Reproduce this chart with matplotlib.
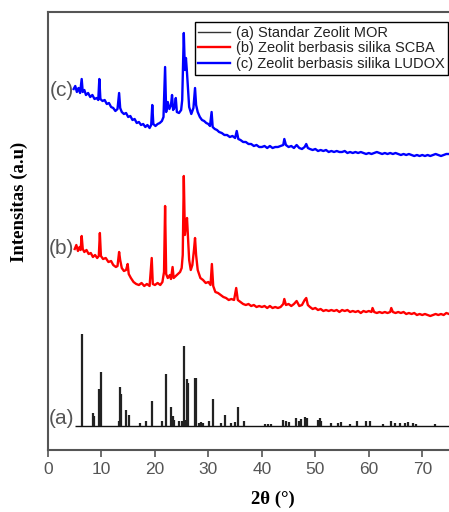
import matplotlib
matplotlib.use('Agg')
from matplotlib import pyplot as plt

# (a) standard MOR pattern: stick peaks (2theta, height above baseline)
a_base = 24
a_start, a_end = 5.0, 75.0
a_pos = [6.38, 8.39, 8.57, 9.5, 9.83, 13.26, 13.39, 13.7, 14.5, 15.1, 17.3, 18.3,
         19.5, 21.4, 22.0, 22.96, 23.3, 23.6, 24.5, 25.1, 25.46, 25.7, 25.96, 26.27,
         27.46, 27.77, 28.2, 28.6, 28.9, 30.1, 30.77, 32.3, 33.1, 34.2, 35.0, 35.46,
         36.6, 40.5, 41.2, 41.8, 43.9, 44.5, 45.1, 46.4, 47.0, 47.4, 48.16, 48.4,
         50.5, 50.8, 51.1, 53.0, 54.2, 54.85, 56.4, 57.7, 59.5, 60.2, 62.7, 64.2,
         64.9, 65.8, 66.7, 67.4, 68.3, 68.9, 72.4]
a_h = [92, 13, 10, 37, 54, 5, 39, 32, 16, 11, 3, 5,
       25, 5, 52, 19, 10, 6, 5, 5, 80, 6, 47, 43,
       48, 48, 3, 4, 3, 5, 27, 3, 11, 3, 4, 19,
       5, 2, 2, 2, 6, 5, 4, 8, 5, 7, 9, 8,
       6, 8, 5, 3, 3, 4, 2, 5, 5, 5, 2, 5,
       3, 3, 3, 4, 3, 2, 2]

# (b) SCBA based zeolite
b_x = [5.0, 5.3, 5.6, 5.9, 6.1, 6.3, 6.5, 6.8, 7.2, 7.6, 8.0, 8.4, 8.8, 9.2, 9.5,
       9.7, 9.9, 10.3, 10.8, 11.3, 11.8, 12.2, 12.7, 13.0, 13.3, 13.5, 13.8, 14.2,
       14.6, 14.9, 15.1, 15.5, 16.0, 16.5, 17.0, 17.5, 18.0, 18.5, 19.0, 19.4, 19.6,
       20.0, 20.5, 21.0, 21.4, 21.7, 21.9, 22.1, 22.4, 22.8, 23.0, 23.3, 23.5, 23.9,
       24.3, 24.7, 25.0, 25.2, 25.4, 25.6, 25.8, 26.0, 26.2, 26.4, 26.7, 27.0, 27.3,
       27.5, 27.7, 28.0, 28.5, 29.0, 29.5, 30.0, 30.4, 30.65, 30.9, 31.3, 31.8, 32.3,
       32.8, 33.3, 33.8, 34.3, 34.8, 35.2, 35.5, 36.0, 36.5, 37.0, 37.5, 38.0, 38.5,
       39.0, 39.5, 40.0, 40.5, 41.0, 41.5, 42.0, 42.5, 43.0, 43.5, 44.0, 44.2, 44.5,
       45.0, 45.5, 46.0, 46.5, 47.0, 47.5, 48.0, 48.3, 48.6, 49.0, 49.5, 50.0, 50.5,
       51.0, 51.5, 52.0, 52.5, 53.0, 53.5, 54.0, 54.5, 55.0, 55.5, 56.0, 56.5, 57.0,
       57.5, 58.0, 58.5, 59.0, 59.5, 60.0, 60.5, 60.7, 61.0, 61.5, 62.0, 62.5, 63.0,
       63.5, 64.0, 64.2, 64.5, 65.0, 65.5, 66.0, 66.5, 67.0, 67.5, 68.0, 68.5, 69.0,
       69.5, 70.0, 70.5, 71.0, 71.5, 72.0, 72.5, 73.0, 73.5, 74.0, 74.5, 75.0]
b_y = [201, 205, 199, 203, 200, 214, 201, 198, 200, 196, 197, 193, 195, 192, 194,
       217, 194, 191, 192, 188, 189, 185, 183, 184, 198, 190, 182, 179,
       180, 186, 176, 172, 168, 166, 165, 167, 164, 166, 164, 192, 166,
       165, 167, 165, 168, 178, 244, 176, 172, 175, 171, 183, 172, 174,
       176, 178, 182, 195, 274, 215, 225, 232, 210, 190, 180, 185, 200,
       212, 195, 180, 172, 170, 167, 168, 165, 186, 164, 158, 157, 155,
       153, 152, 150, 151, 150, 162, 150, 148, 146, 145, 146, 144, 145,
       143, 144, 143, 144, 142, 144, 142, 143, 142, 143, 146, 151, 145,
       146, 144, 146, 149, 144, 145, 150, 152, 145, 143, 141, 142, 140,
       141, 139, 140, 139, 140, 139, 140, 138, 140, 139, 140, 138, 139,
       138, 139, 137, 139, 138, 139, 138, 142, 138, 137, 138, 137, 138,
       137, 138, 142, 138, 137, 138, 137, 138, 136, 137, 136, 137, 135,
       136, 135, 136, 135, 134, 135, 136, 135, 136, 135, 137, 136]

# (c) LUDOX based zeolite
c_x = [4.8, 5.1, 5.4, 5.7, 6.0, 6.3, 6.5, 6.8, 7.1, 7.5, 7.9, 8.3, 8.7, 9.1, 9.4,
       9.6, 9.8, 10.2, 10.6, 11.0, 11.4, 11.8, 12.2, 12.6, 13.0, 13.3, 13.5, 13.8,
       14.2, 14.6, 15.0, 15.4, 15.8, 16.2, 16.6, 17.0, 17.4, 17.8, 18.2, 18.6, 19.0,
       19.3, 19.5, 19.7, 20.1, 20.5, 20.9, 21.3, 21.6, 21.9, 22.1, 22.4, 22.7, 23.0,
       23.2, 23.4, 23.7, 23.9, 24.1, 24.5, 24.9, 25.1, 25.4, 25.6, 25.8, 26.0, 26.2,
       26.4, 26.8, 27.2, 27.5, 27.7, 28.0, 28.4, 28.8, 29.2, 29.6, 30.0, 30.3, 30.6,
       30.8, 31.2, 31.6, 32.0, 32.5, 33.0, 33.5, 34.0, 34.5, 35.0, 35.3, 35.6, 36.0,
       36.5, 37.0, 37.5, 38.0, 38.5, 39.0, 39.5, 40.0, 40.5, 41.0, 41.5, 42.0, 42.5,
       43.0, 43.5, 44.0, 44.2, 44.5, 45.0, 45.5, 46.0, 46.5, 47.0, 47.5, 48.0, 48.3,
       48.6, 49.0, 49.5, 50.0, 50.5, 51.0, 51.5, 52.0, 52.5, 53.0, 53.5, 54.0, 54.5,
       55.0, 55.5, 56.0, 56.5, 57.0, 57.5, 58.0, 58.5, 59.0, 59.5, 60.0, 60.5, 61.0,
       61.5, 62.0, 62.5, 63.0, 63.5, 64.0, 64.5, 65.0, 65.5, 66.0, 66.5, 67.0, 67.5,
       68.0, 68.5, 69.0, 69.5, 70.0, 70.5, 71.0, 71.5, 72.0, 72.5, 73.0, 73.5, 74.0,
       74.5, 75.0]
c_y = [361, 364, 358, 362, 357, 371, 358, 360, 355, 357, 353, 355, 351, 352, 350,
       371, 351, 349, 350, 346, 347, 343, 342, 339, 341, 357, 342, 338,
       336, 337, 333, 334, 330, 331, 327, 328, 325, 326, 323, 325, 322,
       325, 345, 326, 324, 326, 327, 329, 333, 383, 338, 348, 341, 345,
       355, 340, 343, 352, 338, 337, 340, 350, 417, 380, 392, 377, 360,
       343, 336, 342, 362, 345, 338, 333, 330, 329, 327, 326, 324, 338,
       323, 321, 320, 318, 317, 315, 315, 313, 314, 312, 319, 311, 310,
       308, 308, 306, 306, 304, 305, 303, 303, 304, 302, 304, 302, 303,
       303, 304, 305, 311, 305, 303, 304, 302, 305, 302, 301, 303, 306,
       302, 301, 300, 301, 299, 300, 299, 300, 298, 299, 298, 299, 298,
       298, 299, 297, 298, 297, 298, 297, 298, 297, 296, 297, 296, 297,
       298, 297, 296, 297, 296, 297, 296, 297, 296, 295, 296, 295, 296,
       295, 294, 295, 294, 295, 294, 295, 294, 295, 296, 295, 294, 295,
       296, 296]

labels = ['(a) Standar Zeolit MOR', '(b) Zeolit berbasis silika SCBA',
          '(c) Zeolit berbasis silika LUDOX']
tags = ['(a)', '(b)', '(c)']
tag_y = [32, 202, 360]


def main():
    fig = plt.figure(figsize=(4.49, 5.12), dpi=100)
    ax = fig.add_axes([48 / 449, 62 / 512, 401 / 449, 438 / 512])

    # standard pattern as sticks on a flat baseline
    ax.hlines(a_base, a_start, a_end, color='#111111', lw=1.0)
    ax.vlines(a_pos, a_base, [a_base + h for h in a_h], color='#222222', lw=1.6)
    la, = ax.plot([], [], color='#333333', lw=1.0, label=labels[0])
    lb, = ax.plot(b_x, b_y, color='#ff0000', lw=1.7, label=labels[1])
    lc, = ax.plot(c_x, c_y, color='#0000ff', lw=1.7, label=labels[2])

    for t, y in zip(tags, tag_y):
        ax.text(4.9, y, t, ha='right', va='center', fontsize=15,
                color='#555555', family='Liberation Sans')

    ax.set_xlim(0, 75)
    ax.set_ylim(0, 438)
    ax.set_xticks(range(0, 80, 10))
    ax.set_yticks([])
    ax.tick_params(axis='x', direction='out', length=5, width=1.2,
                   colors='#555555', labelsize=12.5, pad=4)
    for lab in ax.get_xticklabels():
        lab.set_family('Liberation Sans')
    for side in ['left', 'bottom', 'top']:
        ax.spines[side].set_color('#555555')
        ax.spines[side].set_linewidth(1.5)
    ax.spines['right'].set_visible(False)

    ax.set_xlabel('2θ (°)', fontsize=13.5, fontweight='bold', family='Liberation Serif')
    ax.set_ylabel('Intensitas (a.u)', fontsize=13.5, fontweight='bold',
                  family='Liberation Serif')
    ax.xaxis.set_label_coords(0.561, -0.094)
    ax.yaxis.set_label_coords(-0.05, 0.566)

    leg = ax.legend(handles=[la, lb, lc], loc='upper right',
                    bbox_to_anchor=(0.9975, 0.977), borderaxespad=0,
                    fancybox=False, framealpha=1, edgecolor='black',
                    prop={'family': 'Liberation Sans', 'size': 10.5},
                    handlelength=2.2, handletextpad=0.35, labelspacing=0.12,
                    borderpad=0.25)
    leg.get_frame().set_linewidth(1.0)
    for txt in leg.get_texts():
        txt.set_color('#222222')

    fig.savefig('out.png', dpi=100)
    plt.close()


if __name__ == '__main__':
    main()
